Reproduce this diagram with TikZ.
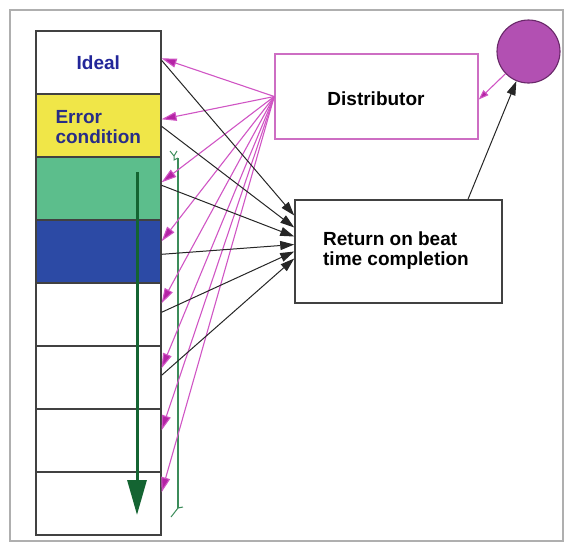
\documentclass[tikz,border=0pt]{standalone}
\usepackage{fontspec}
\setmainfont{Liberation Sans}
\usetikzlibrary{arrows.meta}
\definecolor{rowyellow}{RGB}{240,230,72}
\definecolor{rowgreen}{RGB}{92,190,140}
\definecolor{rowblue}{RGB}{44,74,165}
\definecolor{pinkline}{RGB}{208,85,196}
\definecolor{pinkhead}{RGB}{180,35,165}
\definecolor{distborder}{RGB}{205,110,195}
\definecolor{circfill}{RGB}{178,80,178}
\definecolor{circdraw}{RGB}{105,40,105}
\definecolor{navytext}{RGB}{40,45,135}
\definecolor{darkgreen}{RGB}{20,100,50}
\definecolor{thingreen}{RGB}{60,140,90}
\definecolor{boxgray}{RGB}{65,65,65}
\definecolor{framegray}{RGB}{175,175,175}
\begin{document}
\begin{tikzpicture}[x=1pt,y=-1pt,
  font=\fontsize{19}{20}\selectfont\bfseries,
  row/.style={draw=boxgray, line width=1.6pt, minimum width=125pt, minimum height=63pt, inner sep=0pt, anchor=north west},
  rowtext/.style={text=navytext, align=left},
  pinkarrow/.style={draw=pinkline, line width=1.1pt, -{Triangle[length=15pt,width=9pt,fill=pinkhead]}},
  blackarrow/.style={draw=black!85, line width=1pt, -{Triangle[length=14pt,width=9pt]}},
  bigbox/.style={line width=1.5pt, inner sep=0pt, align=left}]
\useasboundingbox (0,0) rectangle (566,547);
\draw[framegray, line width=1.2pt] (10,10) rectangle (563,541);

% column of rows
\node[row, fill=white] (r1) at (35,30) {};
\node[row, fill=rowyellow] (r2) at (35,93) {};
\node[row, fill=rowgreen] (r3) at (35,156) {};
\node[row, fill=rowblue] (r4) at (35,219) {};
\node[row, fill=white] (r5) at (35,282) {};
\node[row, fill=white] (r6) at (35,345) {};
\node[row, fill=white] (r7) at (35,408) {};
\node[row, fill=white] (r8) at (35,471) {};
\node[rowtext, text=navytext!85!blue] (t1) at (r1.center) {Ideal};
\node[rowtext] (t2) at ([yshift=-2pt]r2.center) {Error\\condition};

% boxes
\node[bigbox, draw=distborder, minimum width=203pt, minimum height=85pt] (dist) at (376.5,96.5) {};
\node (distt) at (376,99) {Distributor};
\node[bigbox, draw=boxgray, minimum width=207pt, minimum height=103pt] (ret) at (398.5,251.5) {};
\node[align=left] (rett) at (396,251) {Return on beat\\time completion};
\node[circle, draw=circdraw, line width=1.1pt, fill=circfill, minimum size=63pt, inner sep=0pt] (circ) at (528.5,51.5) {};

% green bracket line
\coordinate (b1) at (178,158);
\coordinate (b2) at (178,508);
\draw[thingreen, line width=1.4pt] (b1) -- (b2);
\draw[thingreen, line width=1pt] (170,151) -- (174,156) -- (177,151) (174,156) -- (174,160) -- (b1);
\draw[thingreen, line width=1pt] (171,517) -- (b2) -- (183,507);

% big green arrow
\coordinate (g1) at (137,172);
\coordinate (g2) at (137,515);
\draw[darkgreen, line width=3pt, -{Triangle[length=35pt,width=19pt]}] (g1) -- (g2);

% pink fan arrows from distributor
\foreach \r/\s in {r1/4, r2/6, r3/6, r4/10, r5/11, r6/9, r7/10, r8/11}
  \draw[pinkarrow] (dist.west) -- ([yshift=\s pt]\r.east);

% black arrows to return box
\foreach \r/\s/\t in {r1/2/36, r2/-1/24, r3/3/15, r4/-3/7, r5/2/0, r6/2/-7}
  \draw[blackarrow] ([yshift=\s pt]\r.east) -- ([yshift=\t pt]ret.west);

% circle connections
\draw[pinkarrow, -{Triangle[length=10pt,width=7pt,fill=pinkhead]}] (circ) -- ([yshift=-3pt]dist.east);
\draw[blackarrow] ([xshift=69.5pt]ret.north) -- (circ);
\end{tikzpicture}
\end{document}
